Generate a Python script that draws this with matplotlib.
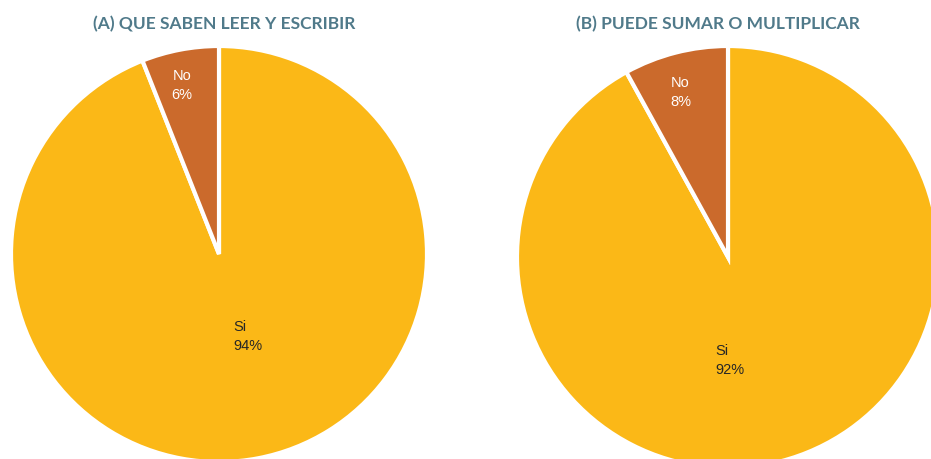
import numpy as np
import matplotlib.pyplot as plt

# data
titles = ["(A) QUE SABEN LEER Y ESCRIBIR", "(B) PUEDE SUMAR O MULTIPLICAR"]
categories = ["Si", "No"]
values_a = [94, 6]
values_b = [92, 8]

colors = ["#FBB817", "#CB6A2C"]
label_colors = ["#262626", "#FFFFFF"]
label_align = ["left", "center"]

W, H = 931, 460
fig = plt.figure(figsize=(W/100, H/100), dpi=100)
ax = fig.add_axes([0, 0, 1, 1])
ax.set_xlim(0, W)
ax.set_ylim(0, H)
ax.set_aspect('equal')
ax.axis('off')

# pie centers / radius in pixels (y from bottom)
centers = [(219, H-255), (728, H-258)]
radii = [208, 211]
title_x = [224, 718]
# label placement: fraction of radius, extra x shift in px
label_r = [[0.40, 0.83], [0.50, 0.81]]
label_dx = [[13, -5], [-24, -5]]

for k, vals in enumerate([values_a, values_b]):
    cx, cy = centers[k]
    r = radii[k]
    wedges, _ = ax.pie(vals, colors=colors, startangle=90, counterclock=False,
                       center=(cx, cy), radius=r,
                       wedgeprops=dict(edgecolor='white', linewidth=3))
    tot = sum(vals)
    for i, w in enumerate(wedges):
        mid = np.deg2rad(0.5*(w.theta1+w.theta2))
        x = cx + label_r[k][i]*r*np.cos(mid) + label_dx[k][i]
        y = cy + label_r[k][i]*r*np.sin(mid)
        ax.text(x, y, f"{categories[i]}\n{round(100*vals[i]/tot)}%",
                ha='center', va='center', fontsize=10.5,
                family='Liberation Sans', color=label_colors[i],
                linespacing=1.45, multialignment=label_align[i])
    ax.text(title_x[k], H-24, titles[k], ha='center', va='center',
            fontsize=12.5, fontweight='bold', family='Lato', color='#507A8A')

ax.set_xlim(0, W)
ax.set_ylim(0, H)
fig.savefig('out.png', dpi=100)
